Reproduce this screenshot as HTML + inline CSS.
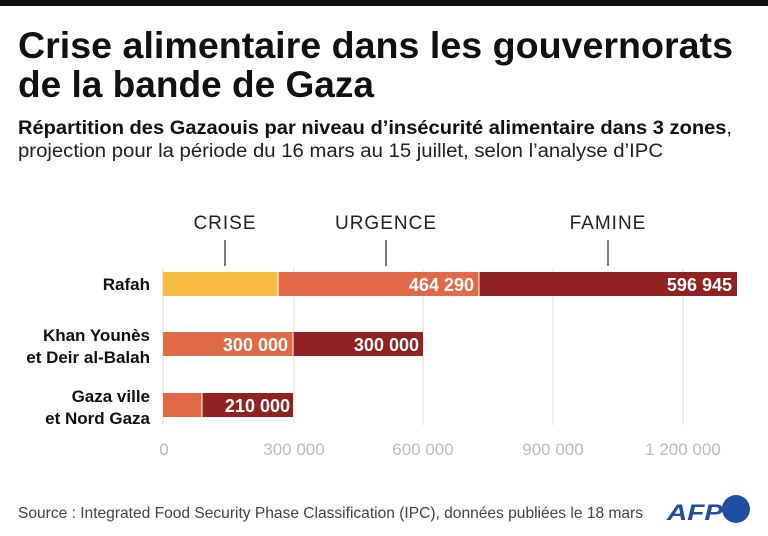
<html><body style="margin:0;background:#fff">
<svg width="768" height="536" xmlns="http://www.w3.org/2000/svg" style="display:block;font-family:'Liberation Sans',sans-serif">
<rect x="0" y="0" width="768" height="6" fill="#111"/>
<text x="18" y="58" font-size="37" font-weight="bold" fill="#111" textLength="715" lengthAdjust="spacingAndGlyphs">Crise alimentaire dans les gouvernorats</text>
<text x="18" y="97" font-size="37" font-weight="bold" fill="#111" textLength="356" lengthAdjust="spacingAndGlyphs">de la bande de Gaza</text>
<text x="18" y="134" font-size="19" font-weight="bold" fill="#111" textLength="714" lengthAdjust="spacingAndGlyphs">Répartition des Gazaouis par niveau d’insécurité alimentaire dans 3 zones<tspan font-weight="normal">,</tspan></text>
<text x="18" y="157" font-size="19" fill="#222" textLength="645" lengthAdjust="spacingAndGlyphs">projection pour la période du 16 mars au 15 juillet, selon l’analyse d’IPC</text>
<g font-size="19" fill="#222" text-anchor="middle" letter-spacing="1">
<text x="225" y="229">CRISE</text><text x="386" y="229">URGENCE</text><text x="608" y="229">FAMINE</text></g>
<g stroke="#333" stroke-width="1.3"><line x1="225" y1="240" x2="225" y2="266"/><line x1="386" y1="240" x2="386" y2="266"/><line x1="608" y1="240" x2="608" y2="266"/></g>
<g stroke="#ddd" stroke-width="1"><line x1="163" y1="268" x2="163" y2="425"/><line x1="294" y1="268" x2="294" y2="425"/><line x1="423" y1="268" x2="423" y2="425"/><line x1="553" y1="268" x2="553" y2="425"/><line x1="683" y1="268" x2="683" y2="425"/></g>
<rect x="163" y="272" width="115" height="24" fill="#f6bb43"/>
<rect x="278" y="272" width="201" height="24" fill="#e06a45"/>
<rect x="479" y="272" width="258" height="24" fill="#922222"/>
<rect x="163" y="332" width="130" height="24" fill="#e06a45"/>
<rect x="293" y="332" width="130" height="24" fill="#922222"/>
<rect x="163" y="393" width="39" height="24" fill="#e06a45"/>
<rect x="202" y="393" width="91" height="24" fill="#922222"/>
<g stroke="#fff" stroke-width="1"><line x1="278" y1="272" x2="278" y2="296"/><line x1="479" y1="272" x2="479" y2="296"/><line x1="293" y1="332" x2="293" y2="356"/><line x1="202" y1="393" x2="202" y2="417"/></g>
<g font-size="18" font-weight="bold" fill="#fff" text-anchor="end">
<text x="474" y="291">464 290</text><text x="732" y="291">596 945</text>
<text x="288" y="351">300 000</text><text x="419" y="351">300 000</text><text x="290" y="412">210 000</text></g>
<g font-size="17" font-weight="bold" fill="#111" text-anchor="end">
<text x="150" y="290">Rafah</text>
<text x="150" y="341">Khan Younès</text><text x="150" y="363">et Deir al-Balah</text>
<text x="150" y="402">Gaza ville</text><text x="150" y="424">et Nord Gaza</text></g>
<g font-size="17" fill="#bbb" text-anchor="middle">
<text x="164" y="455">0</text><text x="294" y="455">300 000</text><text x="423" y="455">600 000</text><text x="553" y="455">900 000</text><text x="683" y="455">1 200 000</text></g>
<text x="18" y="518" font-size="16" fill="#444" textLength="625" lengthAdjust="spacingAndGlyphs">Source : Integrated Food Security Phase Classification (IPC), données publiées le 18 mars</text>
<text x="667" y="520" font-size="22" font-weight="bold" font-style="italic" fill="#1f4fa0" textLength="56" lengthAdjust="spacingAndGlyphs">AFP</text>
<circle cx="736" cy="509" r="14" fill="#1f4fa0"/>
</svg>
</body></html>
